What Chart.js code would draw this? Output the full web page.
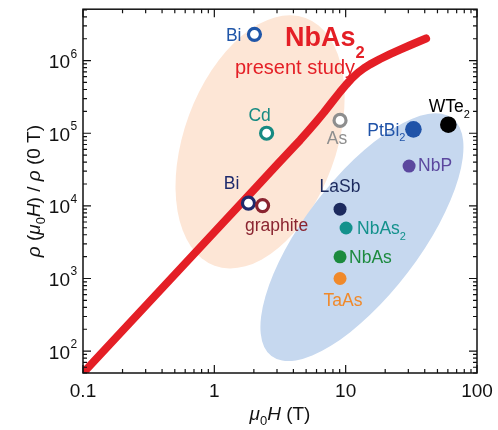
<!DOCTYPE html>
<html>
<head>
<meta charset="utf-8">
<script src="https://cdn.jsdelivr.net/npm/chart.js@4"></script>
<style>
    html, body { margin: 0; padding: 0; background: #fff; }
    #mr { display: block; }
</style>
</head>
<body>
<canvas id="mr" width="498" height="430"></canvas>
<script>
// NbAs2 field sweep: rho(H)/rho(0 T) against mu0H (T)
const curveField = [0.1, 1.0, 2.0, 3.0, 4.0, 4.495, 5.172, 5.952, 6.846, 7.878, 9.064, 10.07, 11.19, 12.43, 13.81, 15.34, 18.28, 21.78, 25.96, 30.94, 36.87, 40.95];
const curveRatio = [50, 4350, 16700, 36700, 64000, 80250, 106800, 143600, 194200, 268500, 371300, 465600, 573200, 683500, 787600, 887500, 1051700, 1227000, 1418000, 1628000, 1864000, 2017000];

// other materials, value at the field it was reported ("_" starts a subscript)
const materials = ['Bi', 'Cd', 'As', 'Bi', 'graphite', 'LaSb', 'NbAs_2', 'NbAs', 'TaAs', 'NbP', 'PtBi_2', 'WTe_2'];
const materialField = [2.02, 2.5, 9.06, 1.82, 2.33, 9.06, 10.07, 9.06, 9.06, 30.4, 32.8, 60.5];
const materialRatio = [2.3e6, 1.0e5, 1.5e5, 1.09e4, 1.01e4, 9000, 4960, 1990, 1000, 35300, 1.13e5, 1.31e5];

// shaded groups: centre, end of the long axis, end of the short axis (data units)
const regions = [
    {color: '#fde6d6', center: [2.23, 7.6e4], major: [4.95, 3.86e6], minor: [7.8, 3.35e4]},
    {color: '#c6d8ef', center: [13.3, 3700], major: [65, 1.6e5], minor: [30, 1236]}
];

const markerStyle = [
    {color: '#2056a8', open: true,  r: 6,   align: 'right',  dx: -13, dy: 0},
    {color: '#168a82', open: true,  r: 6,   align: 'center', dx: -7,  dy: -19},
    {color: '#8e8e8e', open: true,  r: 6,   align: 'center', dx: -3,  dy: 17},
    {color: '#1e2a6c', open: true,  r: 6,   align: 'center', dx: -17, dy: -20},
    {color: '#8a2430', open: true,  r: 6,   align: 'center', dx: 14,  dy: 19},
    {color: '#1c2a5e', open: false, r: 6.5, align: 'center', dx: 0,   dy: -23},
    {color: '#13918c', open: false, r: 6.5, align: 'left',   dx: 11,  dy: 0},
    {color: '#1c8a3e', open: false, r: 6.5, align: 'left',   dx: 9,   dy: 0},
    {color: '#f0892a', open: false, r: 6.5, align: 'center', dx: 3,   dy: 21},
    {color: '#5b479e', open: false, r: 6.5, align: 'left',   dx: 9,   dy: -1},
    {color: '#2053a8', open: false, r: 8.3, align: 'right',  dx: -8,  dy: 0},
    {color: '#000000', open: false, r: 8.3, align: 'center', dx: 1,   dy: -19}
];

const RED = '#e41f26';
const FAM = '"Liberation Sans", Arial, sans-serif';

function f(size, style) {
    return (style ? style + ' ' : '') + size + 'px ' + FAM;
}

// draws a run of text pieces, each with its own font and vertical shift
function drawRich(ctx, parts, x, y, align) {
    const widths = parts.map(p => { ctx.font = p.font; return ctx.measureText(p.text).width; });
    const total = widths.reduce((s, w) => s + w, 0);
    let cx = align === 'right' ? x - total : (align === 'center' ? x - total / 2 : x);
    ctx.textAlign = 'left';
    ctx.textBaseline = 'alphabetic';
    parts.forEach((p, i) => {
        ctx.font = p.font;
        ctx.fillText(p.text, cx, y + (p.dy || 0));
        cx += widths[i];
    });
}

function labelParts(name) {
    const [main, sub] = name.split('_');
    const parts = [{text: main, font: f(17.5)}];
    if (sub) parts.push({text: sub, font: f(11), dy: 5.5});
    return parts;
}

function decadeTicks(min, max) {
    const out = [];
    for (let e = Math.floor(Math.log10(min)); e <= Math.ceil(Math.log10(max)); e++) {
        for (let m = 1; m <= 9; m++) {
            const v = parseFloat((m * Math.pow(10, e)).toPrecision(6));
            if (v >= min * 0.999999 && v <= max * 1.000001) out.push({v, e, major: m === 1});
        }
    }
    return out;
}

const regionPlugin = {
    id: 'regions',
    beforeDatasetsDraw(chart) {
        const {ctx, scales: {x, y}} = chart;
        ctx.save();
        for (const g of regions) {
            const cx = x.getPixelForValue(g.center[0]), cy = y.getPixelForValue(g.center[1]);
            const mx = x.getPixelForValue(g.major[0]) - cx, my = y.getPixelForValue(g.major[1]) - cy;
            const nx = x.getPixelForValue(g.minor[0]) - cx, ny = y.getPixelForValue(g.minor[1]) - cy;
            ctx.beginPath();
            ctx.ellipse(cx, cy, Math.hypot(mx, my), Math.hypot(nx, ny), Math.atan2(my, mx), 0, Math.PI * 2);
            ctx.fillStyle = g.color;
            ctx.fill();
        }
        ctx.restore();
    }
};

const textPlugin = {
    id: 'texts',
    afterDatasetsDraw(chart) {
        const {ctx, chartArea: a} = chart;
        const meta = chart.getDatasetMeta(0);
        ctx.save();
        meta.data.forEach((pt, i) => {
            const s = markerStyle[i];
            ctx.fillStyle = s.color;
            drawRich(ctx, labelParts(materials[i]), pt.x + s.dx, pt.y + s.dy + 6.3, s.align);
        });

        ctx.fillStyle = RED;
        drawRich(ctx, [
            {text: 'NbAs', font: f(27, 'bold')},
            {text: '2', font: f(16.5, 'bold'), dy: 12}
        ], a.left + 202, a.top + 37, 'left');
        drawRich(ctx, [{text: 'present study', font: f(20)}], a.left + 272, a.top + 65, 'right');
        ctx.restore();
    }
};

const framePlugin = {
    id: 'frame',
    afterDraw(chart) {
        const {ctx, chartArea: a, scales: {x, y}} = chart;
        ctx.save();
        ctx.strokeStyle = '#111';
        ctx.lineWidth = 1.2;
        ctx.beginPath();
        decadeTicks(x.min, x.max).forEach(t => {
            const px = x.getPixelForValue(t.v), len = t.major ? 8 : 4;
            ctx.moveTo(px, a.bottom); ctx.lineTo(px, a.bottom - len);
            ctx.moveTo(px, a.top); ctx.lineTo(px, a.top + len);
        });
        decadeTicks(y.min, y.max).forEach(t => {
            const py = y.getPixelForValue(t.v), len = t.major ? 8 : 4;
            ctx.moveTo(a.left, py); ctx.lineTo(a.left + len, py);
            ctx.moveTo(a.right, py); ctx.lineTo(a.right - len, py);
        });
        ctx.stroke();
        ctx.lineWidth = 1.5;
        ctx.strokeRect(a.left, a.top, a.right - a.left, a.bottom - a.top);

        // tick labels
        ctx.fillStyle = '#111';
        decadeTicks(x.min, x.max).filter(t => t.major).forEach(t => {
            drawRich(ctx, [{text: String(t.v), font: f(19)}], x.getPixelForValue(t.v), a.bottom + 24, 'center');
        });
        decadeTicks(y.min, y.max).filter(t => t.major).forEach(t => {
            const py = y.getPixelForValue(t.v);
            drawRich(ctx, [{text: '10', font: f(19)}], a.left - 13, py + 7.5, 'right');
            drawRich(ctx, [{text: String(t.e), font: f(12)}], a.left - 12.5, py - 3, 'left');
        });

        // axis titles
        drawRich(ctx, [
            {text: 'μ', font: f(19, 'italic')},
            {text: '0', font: f(13), dy: 5},
            {text: 'H', font: f(19, 'italic')},
            {text: ' (T)', font: f(19)}
        ], (a.left + a.right) / 2, 420, 'center');

        ctx.translate(34, (a.top + a.bottom) / 2);
        ctx.rotate(-Math.PI / 2);
        drawRich(ctx, [
            {text: 'ρ', font: f(19, 'italic')},
            {text: ' (', font: f(19)},
            {text: 'μ', font: f(19, 'italic')},
            {text: '0', font: f(13), dy: 5},
            {text: 'H', font: f(19, 'italic')},
            {text: ') / ', font: f(19)},
            {text: 'ρ', font: f(19, 'italic')},
            {text: ' (0 T)', font: f(19)}
        ], 0, 6, 'center');
        ctx.restore();
    }
};

new Chart(document.getElementById('mr'), {
    type: 'scatter',
    data: {
        datasets: [{
            data: materialField.map((h, i) => ({x: h, y: materialRatio[i]})),
            pointRadius: markerStyle.map(s => s.r),
            pointBackgroundColor: markerStyle.map(s => s.open ? '#ffffff' : s.color),
            pointBorderColor: markerStyle.map(s => s.color),
            pointBorderWidth: markerStyle.map(s => s.open ? 3.2 : 0),
            showLine: false
        }, {
            data: curveField.map((h, i) => ({x: h, y: curveRatio[i]})),
            showLine: true,
            borderColor: RED,
            borderWidth: 8,
            borderCapStyle: 'round',
            borderJoinStyle: 'round',
            tension: 0,
            pointRadius: 0,
            clip: 0
        }]
    },
    options: {
        responsive: false,
        animation: false,
        devicePixelRatio: 1,
        events: [],
        layout: {padding: {left: 83, top: 6, right: 21, bottom: 57}},
        plugins: {legend: {display: false}, tooltip: {enabled: false}},
        scales: {
            x: {type: 'logarithmic', min: 0.1, max: 100, display: false},
            y: {type: 'logarithmic', min: 50, max: 5.1e6, display: false}
        }
    },
    plugins: [regionPlugin, textPlugin, framePlugin]
});
</script>
</body>
</html>
